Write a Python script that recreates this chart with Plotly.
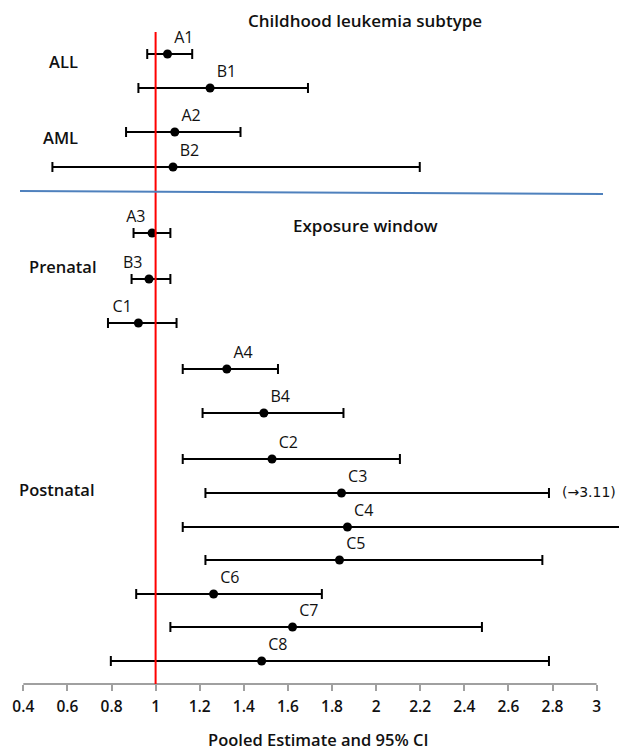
import plotly.graph_objects as go

# ---- data ----
labels = ["A1", "B1", "A2", "B2", "A3", "B3", "C1", "A4", "B4",
          "C2", "C3", "C4", "C5", "C6", "C7", "C8"]
estimate = [1.054, 1.247, 1.087, 1.079, 0.984, 0.970, 0.922, 1.323, 1.491,
            1.528, 1.843, 1.870, 1.834, 1.263, 1.621, 1.481]
lower = [0.962, 0.922, 0.866, 0.532, 0.900, 0.891, 0.784, 1.123, 1.213,
         1.123, 1.226, 1.123, 1.226, 0.912, 1.067, 0.797]
upper = [1.166, 1.691, 1.385, 2.198, 1.067, 1.067, 1.095, 1.555, 1.852,
         2.108, 2.784, 3.200, 2.754, 1.754, 2.480, 2.784]
c3_true_upper = "(\u21923.11)"
tick_vals = [0.4, 0.6, 0.8, 1, 1.2, 1.4, 1.6, 1.8, 2, 2.2, 2.4, 2.6, 2.8, 3]
tick_text = ["0.4", "0.6", "0.8", "1", "1.2", "1.4", "1.6", "1.8", "2",
             "2.2", "2.4", "2.6", "2.8", "3"]
group_labels = ["ALL", "AML", "Prenatal", "Postnatal"]
section_titles = ["Childhood leukemia subtype", "Exposure window"]
x_title = "Pooled Estimate and 95% CI"

# ---- layout helpers (row positions, in page pixel rows) ----
row_y = [54, 88, 132, 167, 233, 279, 323, 369, 413,
         459, 493, 527, 560, 594, 627, 661]
label_pos = ["top right"] * 4 + ["top left"] * 3 + ["top right"] * 9
group_y = [61, 137, 266, 489]
group_x = [0.58, 0.57, 0.58, 0.555]

W, H = 619, 754
axis_y = 684
xr = [0.2943, 3.1016]

FONT = "Open Sans"

fig = go.Figure()
fig.add_trace(go.Scatter(
    x=estimate, y=row_y, mode="markers+text",
    text=labels, textposition=label_pos,
    textfont=dict(family=FONT, size=16, color="#111111"),
    marker=dict(color="black", size=9),
    error_x=dict(type="data", symmetric=False,
                 array=[u - e for u, e in zip(upper, estimate)],
                 arrayminus=[e - l for e, l in zip(estimate, lower)],
                 color="black", thickness=2, width=5),
    cliponaxis=False, showlegend=False, hoverinfo="skip"))

shapes = [
    dict(type="line", xref="x", yref="y", x0=0.4, x1=3, y0=axis_y, y1=axis_y,
         line=dict(color="#A0A0A0", width=2)),
    dict(type="line", xref="x", yref="y", x0=1, x1=1, y0=32, y1=axis_y,
         line=dict(color="#FF0000", width=2)),
    dict(type="line", xref="x", yref="y", x0=0.385, x1=3.029, y0=191, y1=194,
         line=dict(color="#4F81BD", width=2)),
]

annotations = []
for g, gy, gx in zip(group_labels, group_y, group_x):
    annotations.append(dict(x=gx, y=gy, xref="x", yref="y", text=g,
                            showarrow=False, xanchor="center", yanchor="middle",
                            font=dict(family=FONT, size=16.5, color="#111111", weight=600)))
annotations.append(dict(x=1.95, y=20, xref="x", yref="y", text=section_titles[0],
                        showarrow=False, xanchor="center", yanchor="middle",
                        font=dict(family=FONT, size=17, color="#111111", weight=600)))
annotations.append(dict(x=1.95, y=225, xref="x", yref="y", text=section_titles[1],
                        showarrow=False, xanchor="center", yanchor="middle",
                        font=dict(family=FONT, size=17, color="#111111", weight=600)))
annotations.append(dict(x=2.835, y=492, xref="x", yref="y", text=c3_true_upper,
                        showarrow=False, xanchor="left", yanchor="middle",
                        font=dict(family="DejaVu Sans", size=14, color="#111111")))
annotations.append(dict(x=1.736, y=739, xref="x", yref="y", text=x_title,
                        showarrow=False, xanchor="center", yanchor="middle",
                        font=dict(family=FONT, size=16.5, color="#111111", weight=600)))

fig.update_layout(
    width=W, height=H, margin=dict(l=0, r=0, t=0, b=0),
    paper_bgcolor="white", plot_bgcolor="white",
    shapes=shapes, annotations=annotations,
    xaxis=dict(range=xr, showgrid=False, zeroline=False, showline=False,
               anchor="free", position=(H - axis_y) / H,
               tickvals=tick_vals, ticktext=tick_text,
               ticks="outside", ticklen=6, tickwidth=2, tickcolor="#A0A0A0",
               ticklabelstandoff=2,
               tickfont=dict(family=FONT, size=15.5, color="#111111", weight=600)),
    yaxis=dict(range=[H, 0], visible=False, showgrid=False, zeroline=False),
)

fig.write_html("out.html")
